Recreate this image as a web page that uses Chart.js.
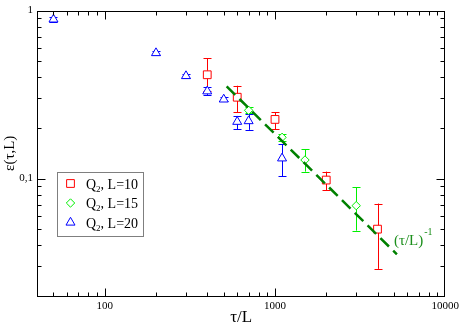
<!DOCTYPE html>
<html>
<head>
<meta charset="utf-8">
<script src="https://cdn.jsdelivr.net/npm/chart.js@4"></script>
<style>
  html, body { margin: 0; padding: 0; background: #fff; }
  #chart { display: block; }
</style>
</head>
<body>
<canvas id="chart" width="463" height="327"></canvas>
<script>
// Q2, L=10 (red squares)
const q10Tau = [400, 600, 1000, 2000, 4000];
const q10Eps = [0.415, 0.305, 0.225, 0.098, 0.050];
const q10Lo  = [0.33, 0.249, 0.197, 0.085, 0.029];
const q10Hi  = [0.52, 0.357, 0.249, 0.110, 0.071];

// Q2, L=15 (green diamonds)
const q15Tau = [700, 1100, 1500, 3000];
const q15Eps = [0.255, 0.176, 0.129, 0.069];
const q15Lo  = [0.245, 0.168, 0.110, 0.049];
const q15Hi  = [0.265, 0.185, 0.149, 0.089];

// Q2, L=20 (blue triangles)
const q20Tau = [50, 200, 300, 400, 500, 600, 700, 1100];
const q20Eps = [0.886, 0.559, 0.408, 0.331, 0.296, 0.218, 0.220, 0.132];
const q20Lo  = [0.86, 0.545, 0.395, 0.315, 0.288, 0.197, 0.195, 0.103];
const q20Hi  = [0.91, 0.575, 0.42, 0.35, 0.305, 0.236, 0.243, 0.160];

// power law guide (tau/L)^-1
const fitTau = [520, 5200];
const fitEps = [0.354, 0.0354];

const seriesLabels = ["L=10", "L=15", "L=20"];
const fitLabel = "(τ/L)";
const xTickLabels = { 100: "100", 1000: "1000", 10000: "10000" };
const yTickLabels = { 0.1: "0,1", 1: "1" };

const SERIF = "'Liberation Serif', 'DejaVu Serif', serif";

function isDecade(v) {
  const l = Math.log10(v);
  return Math.abs(l - Math.round(l)) < 1e-9;
}

// 1..9 x 10^n tick values between min and max
function logTicks(min, max) {
  const out = [];
  for (let e = Math.floor(Math.log10(min)); e <= Math.ceil(Math.log10(max)); e++) {
    for (let m = 1; m < 10; m++) {
      const v = +(m * Math.pow(10, e)).toPrecision(6);
      if (v >= min - 1e-12 && v <= max + 1e-12) out.push(v);
    }
  }
  return out;
}

function points(xs, ys, lo, hi) {
  return xs.map((x, i) => ({ x: x, y: ys[i], lo: lo ? lo[i] : null, hi: hi ? hi[i] : null }));
}

// error bars, drawn under the markers
const errorBars = {
  id: "errorBars",
  beforeDatasetsDraw(chart) {
    const { ctx, scales } = chart;
    ctx.save();
    ctx.lineWidth = 1;
    chart.data.datasets.forEach(ds => {
      if (!ds.errorBars) return;
      ctx.strokeStyle = ds.borderColor;
      ds.data.forEach(p => {
        const x = Math.round(scales.x.getPixelForValue(p.x)) + 0.5;
        const y1 = scales.y.getPixelForValue(p.hi);
        const y2 = scales.y.getPixelForValue(p.lo);
        ctx.beginPath();
        ctx.moveTo(x, y1); ctx.lineTo(x, y2);
        ctx.moveTo(x - 4, Math.round(y1) + 0.5); ctx.lineTo(x + 4, Math.round(y1) + 0.5);
        ctx.moveTo(x - 4, Math.round(y2) + 0.5); ctx.lineTo(x + 4, Math.round(y2) + 0.5);
        ctx.stroke();
      });
    });
    ctx.restore();
  }
};

// box round the plot with inward ticks on all four sides
const frameTicks = {
  id: "frameTicks",
  afterDraw(chart) {
    const { ctx, chartArea: a, scales } = chart;
    const L = Math.round(a.left) + 0.5, R = Math.round(a.right) - 0.5;
    const T = Math.round(a.top) + 0.5, B = Math.round(a.bottom) + 0.5;
    ctx.save();
    ctx.strokeStyle = "#000";
    ctx.lineWidth = 1;
    ctx.beginPath();
    scales.x.ticks.forEach(t => {
      const px = Math.round(scales.x.getPixelForValue(t.value)) + 0.5;
      if (px <= L + 1 || px >= R - 1) return;
      const len = isDecade(t.value) ? 8 : 4;
      ctx.moveTo(px, B); ctx.lineTo(px, B - len);
      ctx.moveTo(px, T); ctx.lineTo(px, T + len);
    });
    scales.y.ticks.forEach(t => {
      const py = Math.round(scales.y.getPixelForValue(t.value)) + 0.5;
      if (py <= T + 1 || py >= B - 1) return;
      const len = isDecade(t.value) ? 8 : 4;
      ctx.moveTo(L, py); ctx.lineTo(L + len, py);
      ctx.moveTo(R, py); ctx.lineTo(R - len, py);
    });
    ctx.stroke();
    ctx.strokeRect(L, T, R - L, B - T);
    ctx.restore();
  }
};

// legend box inside the plot + label of the guide line
const insideLegend = {
  id: "insideLegend",
  afterDraw(chart) {
    const { ctx, scales } = chart;
    ctx.save();
    ctx.fillStyle = "#fff";
    ctx.fillRect(57.5, 172.5, 86, 64);
    ctx.strokeStyle = "#7f7f7f";
    ctx.lineWidth = 1;
    ctx.strokeRect(57.5, 172.5, 86, 64);
    const rows = [183.5, 203, 222.5];
    chart.data.datasets.filter(d => d.errorBars).forEach((ds, i) => {
      const y = rows[i];
      ctx.lineWidth = 1;
      ctx.strokeStyle = ds.borderColor;
      ctx.fillStyle = "#fff";
      Chart.helpers.drawPoint(ctx, { pointStyle: ds.pointStyle, radius: ds.pointRadius, borderWidth: 1 }, 70.5, y);
      ctx.fillStyle = "#000";
      ctx.textBaseline = "alphabetic";
      ctx.font = "14px " + SERIF;
      const base = y + 5;
      ctx.fillText("Q", 86, base);
      let x = 86 + ctx.measureText("Q").width;
      ctx.font = "9px " + SERIF;
      ctx.fillText("2", x, base + 3);
      x += ctx.measureText("2").width;
      ctx.font = "14px " + SERIF;
      ctx.fillText(", " + ds.label, x, base);
    });

    // label next to the end of the dashed guide
    const ex = scales.x.getPixelForValue(fitTau[fitTau.length - 1]);
    const ey = scales.y.getPixelForValue(fitEps[fitEps.length - 1]);
    ctx.fillStyle = "#1b8f1b";
    ctx.font = "15px " + SERIF;
    ctx.fillText(fitLabel, ex - 3, ey - 9);
    const w = ctx.measureText(fitLabel).width;
    ctx.font = "10px " + SERIF;
    ctx.fillText("-1", ex - 3 + w + 1, ey - 19);
    ctx.restore();
  }
};

function markerSet(label, xs, ys, lo, hi, color, style, r) {
  return {
    label: label,
    data: points(xs, ys, lo, hi),
    errorBars: true,
    borderColor: color,
    backgroundColor: "#fff",
    pointStyle: style,
    pointRadius: r,
    pointHoverRadius: r,
    borderWidth: 1,
    showLine: false,
    order: 1
  };
}

const ctx = document.getElementById("chart").getContext("2d");
new Chart(ctx, {
  type: "scatter",
  data: {
    datasets: [
      markerSet(seriesLabels[0], q10Tau, q10Eps, q10Lo, q10Hi, "#ff0000", "rect", 5.5),
      markerSet(seriesLabels[1], q15Tau, q15Eps, q15Lo, q15Hi, "#00f000", "rectRot", 4.2),
      markerSet(seriesLabels[2], q20Tau, q20Eps, q20Lo, q20Hi, "#0000ff", "triangle", 5.2),
      {
        label: "fit",
        data: points(fitTau, fitEps),
        showLine: true,
        borderColor: "#008000",
        borderWidth: 2.5,
        borderDash: [12, 6],
        pointRadius: 0,
        fill: false,
        order: -1
      }
    ]
  },
  options: {
    responsive: false,
    animation: false,
    devicePixelRatio: 1,
    layout: { padding: { left: 0, right: 16, top: 5, bottom: 0 } },
    plugins: {
      legend: { display: false },
      tooltip: { enabled: false }
    },
    scales: {
      x: {
        type: "logarithmic",
        position: "bottom",
        min: 40,
        max: 10000,
        afterFit: s => { s.height = 31; },
        afterBuildTicks: s => { s.ticks = logTicks(40, 10000).map(v => ({ value: v })); },
        grid: { display: false, drawTicks: false },
        border: { display: false },
        ticks: {
          autoSkip: false,
          maxRotation: 0,
          padding: 4,
          color: "#000",
          font: { family: SERIF, size: 11 },
          callback: v => isDecade(v) ? (xTickLabels[Math.round(v)] || "") : ""
        },
        title: {
          display: true,
          text: "τ/L",
          color: "#000",
          font: { family: SERIF, size: 17, lineHeight: 1 },
          padding: { top: 0, bottom: 1 }
        }
      },
      y: {
        type: "logarithmic",
        position: "left",
        min: 0.02,
        max: 1,
        afterFit: s => { s.width = 37; },
        afterBuildTicks: s => { s.ticks = logTicks(0.02, 1).map(v => ({ value: v })); },
        grid: { display: false, drawTicks: false },
        border: { display: false },
        ticks: {
          autoSkip: false,
          padding: 4,
          color: "#000",
          font: { family: SERIF, size: 11 },
          callback: v => {
            if (!isDecade(v)) return "";
            return Math.abs(v - 1) < 1e-9 ? yTickLabels[1] : (Math.abs(v - 0.1) < 1e-9 ? yTickLabels[0.1] : "");
          }
        },
        title: {
          display: true,
          text: "ε(τ,L)",
          color: "#000",
          font: { family: SERIF, size: 15, lineHeight: 1.2 },
          padding: { top: 1, bottom: 0 }
        }
      }
    }
  },
  plugins: [errorBars, frameTicks, insideLegend]
});
</script>
</body>
</html>
